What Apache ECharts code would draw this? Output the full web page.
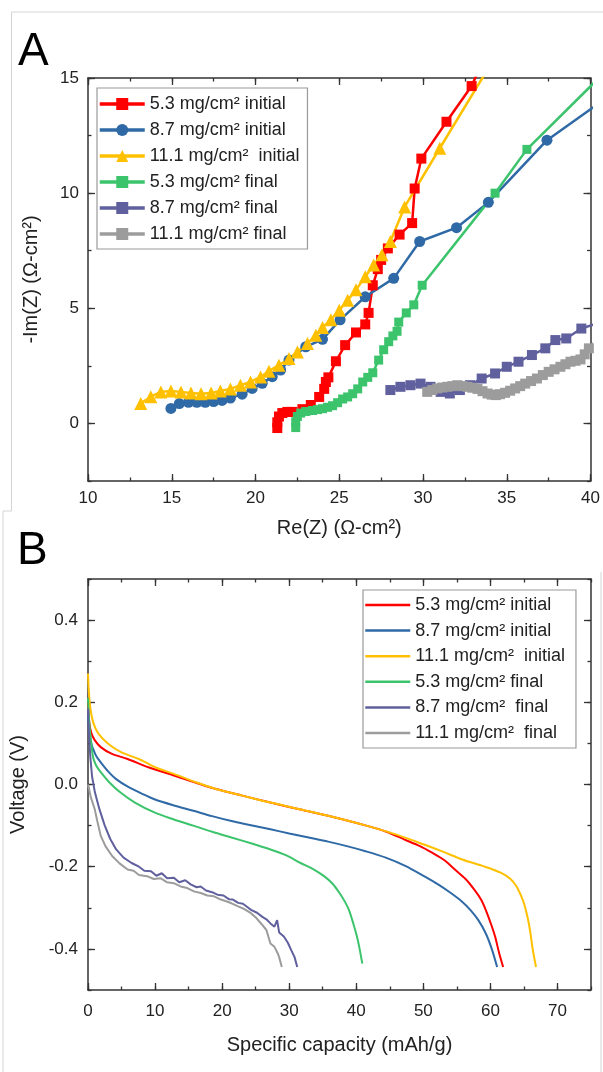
<!DOCTYPE html>
<html>
<head>
<meta charset="utf-8">
<script src="https://cdn.jsdelivr.net/npm/echarts@6.0.0/dist/echarts.min.js"></script>
<style>
html,body{margin:0;padding:0;background:#fff;}
#chart{width:603px;height:1072px;}
</style>
</head>
<body>
<div id="chart"></div>
<script>
// ---------- DATA ----------
// Panel A: Nyquist plot, [Re(Z), -Im(Z)] in Ω·cm²
const namesA = ['5.3 mg/cm² initial', '8.7 mg/cm² initial', '11.1 mg/cm²  initial', '5.3 mg/cm² final', '8.7 mg/cm² final', '11.1 mg/cm² final'];
const eis53i = [[21.3,-0.2],[21.3,0.05],[21.4,0.3],[21.6,0.45],[21.9,0.5],[22.2,0.5],[22.8,0.62],[23.3,0.8],[23.8,1.15],[24.1,1.5],[24.2,1.8],[24.35,2.0],[24.8,2.7],[25.35,3.4],[26.0,3.95],[26.55,4.3],[26.75,4.8],[27.0,6.0],[27.3,6.7],[27.5,7.1],[27.9,7.6],[28.6,8.2],[29.35,8.7],[29.5,10.2],[29.9,11.5],[31.4,13.1],[32.9,14.65],[33.3,15.3]];
const eis87i = [[14.95,0.65],[15.45,0.86],[16.0,0.92],[16.5,0.92],[17.0,0.92],[17.5,0.95],[18.0,1.0],[18.5,1.1],[19.2,1.27],[19.8,1.52],[20.4,1.74],[21.0,2.03],[21.5,2.32],[22.0,2.75],[23.0,3.33],[24.0,3.65],[25.05,4.5],[26.55,5.5],[28.25,6.3],[29.8,7.9],[32.0,8.5],[33.9,9.6],[37.4,12.3],[40.5,13.9]];
const eis111i = [[13.15,0.87],[13.75,1.16],[14.35,1.37],[14.95,1.41],[15.55,1.37],[16.15,1.32],[16.75,1.29],[17.35,1.32],[17.9,1.41],[18.5,1.5],[19.1,1.66],[19.7,1.8],[20.3,2.02],[20.8,2.27],[21.4,2.53],[22.0,2.82],[22.5,3.1],[23.1,3.47],[23.6,3.83],[24.0,4.17],[24.5,4.5],[25.0,4.92],[25.5,5.35],[26.0,5.8],[26.55,6.37],[27.05,6.88],[27.55,7.32],[28.05,7.9],[28.9,9.4],[31.0,11.95],[34.0,15.55]];
const eis53f = [[22.4,-0.18],[22.4,0.07],[22.5,0.3],[22.7,0.45],[23.0,0.52],[23.4,0.56],[23.7,0.6],[24.0,0.64],[24.3,0.7],[24.6,0.77],[24.9,0.9],[25.2,1.06],[25.5,1.15],[25.8,1.29],[26.1,1.5],[26.4,1.8],[26.7,2.0],[27.0,2.2],[27.35,2.75],[27.65,3.2],[27.95,3.55],[28.2,3.8],[28.45,4.0],[28.55,4.4],[29.0,4.8],[29.45,5.15],[29.95,6.0],[34.3,10.0],[36.2,11.9],[40.5,15.0]];
const eis87f = [[28.05,1.45],[28.65,1.59],[29.25,1.66],[29.85,1.73],[30.45,1.59],[31.05,1.37],[31.6,1.3],[32.2,1.45],[32.8,1.66],[33.5,1.95],[34.3,2.17],[35.0,2.46],[35.7,2.68],[36.5,2.97],[37.3,3.26],[37.9,3.62],[38.55,3.69],[39.45,4.12],[40.2,4.3]];
const eis111f = [[30.25,1.37],[30.55,1.45],[30.85,1.52],[31.15,1.56],[31.45,1.59],[31.75,1.62],[32.05,1.66],[32.35,1.62],[32.65,1.59],[32.95,1.55],[33.25,1.5],[33.55,1.4],[33.85,1.3],[34.1,1.25],[34.35,1.23],[34.6,1.27],[34.9,1.33],[35.2,1.42],[35.5,1.52],[35.8,1.62],[36.1,1.73],[36.45,1.84],[36.8,1.95],[37.15,2.1],[37.5,2.24],[37.85,2.35],[38.2,2.46],[38.5,2.57],[38.8,2.68],[39.1,2.72],[39.4,2.78],[39.65,3.0],[39.9,3.26],[40.2,3.5]];

// Panel B: discharge curves, [capacity mAh/g, voltage V]
const namesB = ['5.3 mg/cm² initial ', '8.7 mg/cm² initial ', '11.1 mg/cm²  initial ', '5.3 mg/cm² final ', '8.7 mg/cm²  final ', '11.1 mg/cm²  final '];
const dis53i = [[0,0.2],[0.2,0.15],[0.5,0.125],[1,0.108],[1.9,0.091],[3.5,0.075],[5.9,0.062],[9,0.042],[12.8,0.022],[16,0.005],[19.1,-0.011],[23,-0.027],[27.2,-0.044],[31.5,-0.06],[35.8,-0.076],[41.5,-0.1],[44.5,-0.115],[47.2,-0.134],[49.5,-0.15],[51.3,-0.166],[53.2,-0.185],[54.7,-0.207],[56.3,-0.23],[57.6,-0.256],[58.6,-0.28],[59.3,-0.305],[60.1,-0.34],[60.7,-0.37],[61.3,-0.41],[61.9,-0.444]];
const dis87i = [[0,0.17],[0.2,0.13],[0.5,0.1],[0.75,0.087],[1.2,0.07],[1.9,0.054],[3,0.032],[4.2,0.013],[6,-0.006],[8,-0.022],[9.9,-0.036],[12.8,-0.051],[15.7,-0.064],[18.5,-0.077],[21.4,-0.089],[24.3,-0.099],[27.2,-0.109],[30,-0.119],[32.9,-0.129],[35.8,-0.139],[38.6,-0.15],[41.5,-0.163],[44.4,-0.178],[47.3,-0.198],[50.1,-0.223],[52.2,-0.243],[54.1,-0.264],[55.7,-0.284],[57.0,-0.305],[58.2,-0.33],[59.3,-0.362],[60.2,-0.4],[61.0,-0.444]];
const dis111i = [[0,0.27],[0.15,0.22],[0.4,0.18],[0.8,0.15],[1.5,0.125],[3.0,0.099],[5,0.078],[7.6,0.062],[10,0.042],[12.8,0.026],[16,0.006],[19.1,-0.011],[23,-0.027],[27.2,-0.044],[35.8,-0.076],[41.5,-0.1],[46,-0.122],[50.1,-0.146],[53,-0.164],[55.9,-0.183],[58.8,-0.198],[61.6,-0.215],[63,-0.23],[63.9,-0.248],[64.5,-0.268],[65,-0.289],[65.5,-0.32],[65.9,-0.354],[66.3,-0.4],[66.8,-0.444]];
const dis53f = [[0,0.21],[0.15,0.16],[0.35,0.12],[0.75,0.067],[1.2,0.047],[1.9,0.03],[3.2,0.005],[4.8,-0.019],[7,-0.044],[9.9,-0.068],[12.8,-0.085],[15.7,-0.1],[18.5,-0.115],[21.4,-0.129],[24.3,-0.143],[27.2,-0.158],[29.5,-0.172],[31.7,-0.191],[33.5,-0.205],[35.2,-0.223],[36.5,-0.242],[37.5,-0.264],[38.3,-0.285],[38.9,-0.305],[39.5,-0.335],[40.1,-0.37],[40.5,-0.4],[40.9,-0.436]];
const dis87f = [[0,0.185],[0.15,0.12],[0.36,0.064],[0.6,0.02],[1.03,-0.019],[1.7,-0.06],[2.5,-0.1],[3.3,-0.132],[4.2,-0.158],[5.3,-0.178],[6.5,-0.191],[7.6,-0.2],[8.4,-0.21],[9.4,-0.211],[10.2,-0.222],[11.0,-0.216],[11.8,-0.228],[12.8,-0.227],[13.6,-0.238],[14.5,-0.233],[15.3,-0.243],[16.2,-0.25],[16.8,-0.248],[17.6,-0.258],[18.5,-0.262],[19.3,-0.268],[20.2,-0.27],[21.0,-0.279],[21.6,-0.28],[22.4,-0.288],[23.1,-0.29],[24.0,-0.301],[24.3,-0.305],[25.2,-0.312],[26.0,-0.322],[26.6,-0.328],[27.2,-0.338],[27.8,-0.346],[28.2,-0.33],[28.5,-0.36],[29.2,-0.37],[29.8,-0.385],[30.3,-0.403],[30.5,-0.4],[30.8,-0.42],[31.2,-0.444]];
const dis111f = [[0,0.0],[0.15,-0.01],[0.4,-0.03],[0.7,-0.045],[1.0,-0.06],[1.4,-0.09],[1.9,-0.125],[2.6,-0.15],[3.6,-0.174],[4.7,-0.192],[5.9,-0.207],[6.8,-0.21],[7.6,-0.22],[8.8,-0.223],[9.8,-0.23],[10.8,-0.228],[11.8,-0.238],[12.8,-0.24],[13.8,-0.248],[14.8,-0.252],[15.8,-0.26],[16.8,-0.264],[17.8,-0.27],[18.8,-0.272],[19.8,-0.28],[20.6,-0.284],[21.4,-0.289],[22.3,-0.296],[23.3,-0.303],[24.3,-0.313],[25.1,-0.325],[25.9,-0.34],[26.6,-0.354],[27.2,-0.387],[27.8,-0.395],[28.3,-0.411],[28.5,-0.42],[28.9,-0.444]];

// Axis tick values
const ticksAx = [10, 15, 20, 25, 30, 35, 40];
const ticksAy = [0, 5, 10, 15];
const ticksBx = [0, 10, 20, 30, 40, 50, 60, 70];
const ticksBy = [-0.4, -0.2, 0.0, 0.2, 0.4];

// ---------- STYLE ----------
const FONT = 'Liberation Sans, Arial, sans-serif';
const colors = ['#ff0000', '#2f6aa6', '#ffc000', '#3cc46c', '#60609e', '#9c9c9c'];
const AX = '#333';

function mainAxis(gridIndex, position, min, max, interval, labelFn, margin, name, nameGap, showLabel) {
  return {
    type: 'value', gridIndex, position, min, max, interval,
    axisLine: { show: true, onZero: false, lineStyle: { color: AX, width: 1.5 } },
    axisTick: { show: true, inside: true, length: 3.5, lineStyle: { color: AX, width: 1.3 } },
    axisLabel: { show: showLabel, formatter: labelFn, margin, fontSize: 17, color: '#222', fontFamily: FONT },
    splitLine: { show: false },
    name: showLabel ? name : '', nameLocation: 'middle', nameGap,
    nameTextStyle: { fontSize: 20, color: '#222', fontFamily: FONT }
  };
}
function majorAxis(gridIndex, position, min, max, values) {
  return {
    type: 'value', gridIndex, position, min, max,
    axisLine: { show: false, onZero: false },
    axisTick: { show: true, inside: true, length: 7, customValues: values, lineStyle: { color: AX, width: 1.3 } },
    axisLabel: { show: false },
    splitLine: { show: false }
  };
}

const fmtAx = v => (Math.abs(v % 5) < 1e-9 ? String(v) : '');
const fmtAy = v => (Math.abs(v % 5) < 1e-9 ? String(v) : '');
const fmtBx = v => (Math.abs(v % 10) < 1e-9 ? String(v) : '');
const fmtBy = v => { const k = Math.round(v * 10); return k % 2 === 0 ? (k / 10).toFixed(1) : ''; };

const xAxis = [
  mainAxis(0, 'bottom', 10, 40, 2.5, fmtAx, 9, 'Re(Z) (Ω-cm²)', 37, true),
  mainAxis(0, 'top', 10, 40, 2.5, fmtAx, 8, '', 0, false),
  majorAxis(0, 'bottom', 10, 40, ticksAx),
  majorAxis(0, 'top', 10, 40, ticksAx),
  mainAxis(1, 'bottom', 0, 75, 5, fmtBx, 13, 'Specific capacity (mAh/g)', 45, true),
  mainAxis(1, 'top', 0, 75, 5, fmtBx, 12, '', 0, false),
  majorAxis(1, 'bottom', 0, 75, ticksBx),
  majorAxis(1, 'top', 0, 75, ticksBx)
];
const yAxis = [
  mainAxis(0, 'left', -2.5, 15, 2.5, fmtAy, 9, '-Im(Z) (Ω-cm²)', 47, true),
  mainAxis(0, 'right', -2.5, 15, 2.5, fmtAy, 9, '', 0, false),
  majorAxis(0, 'left', -2.5, 15, ticksAy),
  majorAxis(0, 'right', -2.5, 15, ticksAy),
  mainAxis(1, 'left', -0.5, 0.5, 0.1, fmtBy, 10, 'Voltage (V)', 60, true),
  mainAxis(1, 'right', -0.5, 0.5, 0.1, fmtBy, 10, '', 0, false),
  majorAxis(1, 'left', -0.5, 0.5, ticksBy),
  majorAxis(1, 'right', -0.5, 0.5, ticksBy)
];

const dataA = [eis53i, eis87i, eis111i, eis53f, eis87f, eis111f];
const symA = ['rect', 'circle', 'triangle', 'rect', 'rect', 'rect'];
const sizeA = [10, 11, 13, 9, 10, 10];
const dataB = [dis53i, dis87i, dis111i, dis53f, dis87f, dis111f];

const series = [];
dataA.forEach((d, i) => series.push({
  type: 'line', name: namesA[i], xAxisIndex: 0, yAxisIndex: 0, data: d,
  symbol: symA[i], symbolSize: sizeA[i], showSymbol: true,
  color: colors[i], lineStyle: { width: 2.5, color: colors[i] },
  itemStyle: { color: colors[i] }, clip: true, silent: true
}));
dataB.forEach((d, i) => series.push({
  type: 'line', name: namesB[i], xAxisIndex: 4, yAxisIndex: 4, data: d,
  symbol: 'none', smooth: (i < 4) ? 0.3 : false,
  color: colors[i], lineStyle: { width: 2, color: colors[i] }, clip: true, silent: true
}));

const legendBase = {
  orient: 'vertical', itemWidth: 45, itemHeight: 15,
  backgroundColor: '#fff', borderColor: '#9a9a9a', borderWidth: 1.2,
  textStyle: { fontSize: 18, color: '#222', fontFamily: FONT, lineHeight: 20 },
  selectedMode: false
};

const option = {
  animation: false,
  backgroundColor: '#fff',
  grid: [
    { left: 88, right: 11, top: 78, bottom: 591 },
    { left: 87, right: 12, top: 579, bottom: 82 }
  ],
  xAxis, yAxis,
  legend: [
    Object.assign({}, legendBase, { data: namesA, left: 97, top: 88, padding: [6, 8, 5, 1], itemGap: 6,
      lineStyle: { width: 3.5 } }),
    Object.assign({}, legendBase, { data: namesB, left: 363, top: 590, padding: [5, 6, 5, 1], itemGap: 5.6,
      itemStyle: { opacity: 0 }, lineStyle: { width: 2.5 } })
  ],
  graphic: [
    { type: 'line', shape: { x1: 11.5, y1: 12, x2: 603, y2: 12 }, style: { stroke: '#d4d4d4', lineWidth: 1 }, silent: true },
    { type: 'line', shape: { x1: 11.5, y1: 12, x2: 11.5, y2: 511 }, style: { stroke: '#d4d4d4', lineWidth: 1 }, silent: true },
    { type: 'line', shape: { x1: 3, y1: 511, x2: 11.5, y2: 511 }, style: { stroke: '#d4d4d4', lineWidth: 1 }, silent: true },
    { type: 'line', shape: { x1: 3, y1: 511, x2: 3, y2: 1072 }, style: { stroke: '#d4d4d4', lineWidth: 1 }, silent: true },
    { type: 'line', shape: { x1: 601, y1: 572, x2: 601, y2: 1072 }, style: { stroke: '#d4d4d4', lineWidth: 1 }, silent: true },
    { type: 'text', left: 18, top: 29, style: { text: 'A', fontSize: 46, fontFamily: FONT, fill: '#000' }, silent: true },
    { type: 'text', left: 17, top: 528, style: { text: 'B', fontSize: 46, fontFamily: FONT, fill: '#000' }, silent: true }
  ],
  series
};

const chart = echarts.init(document.getElementById('chart'), null, { renderer: 'canvas' });
chart.setOption(option);
</script>
</body>
</html>
